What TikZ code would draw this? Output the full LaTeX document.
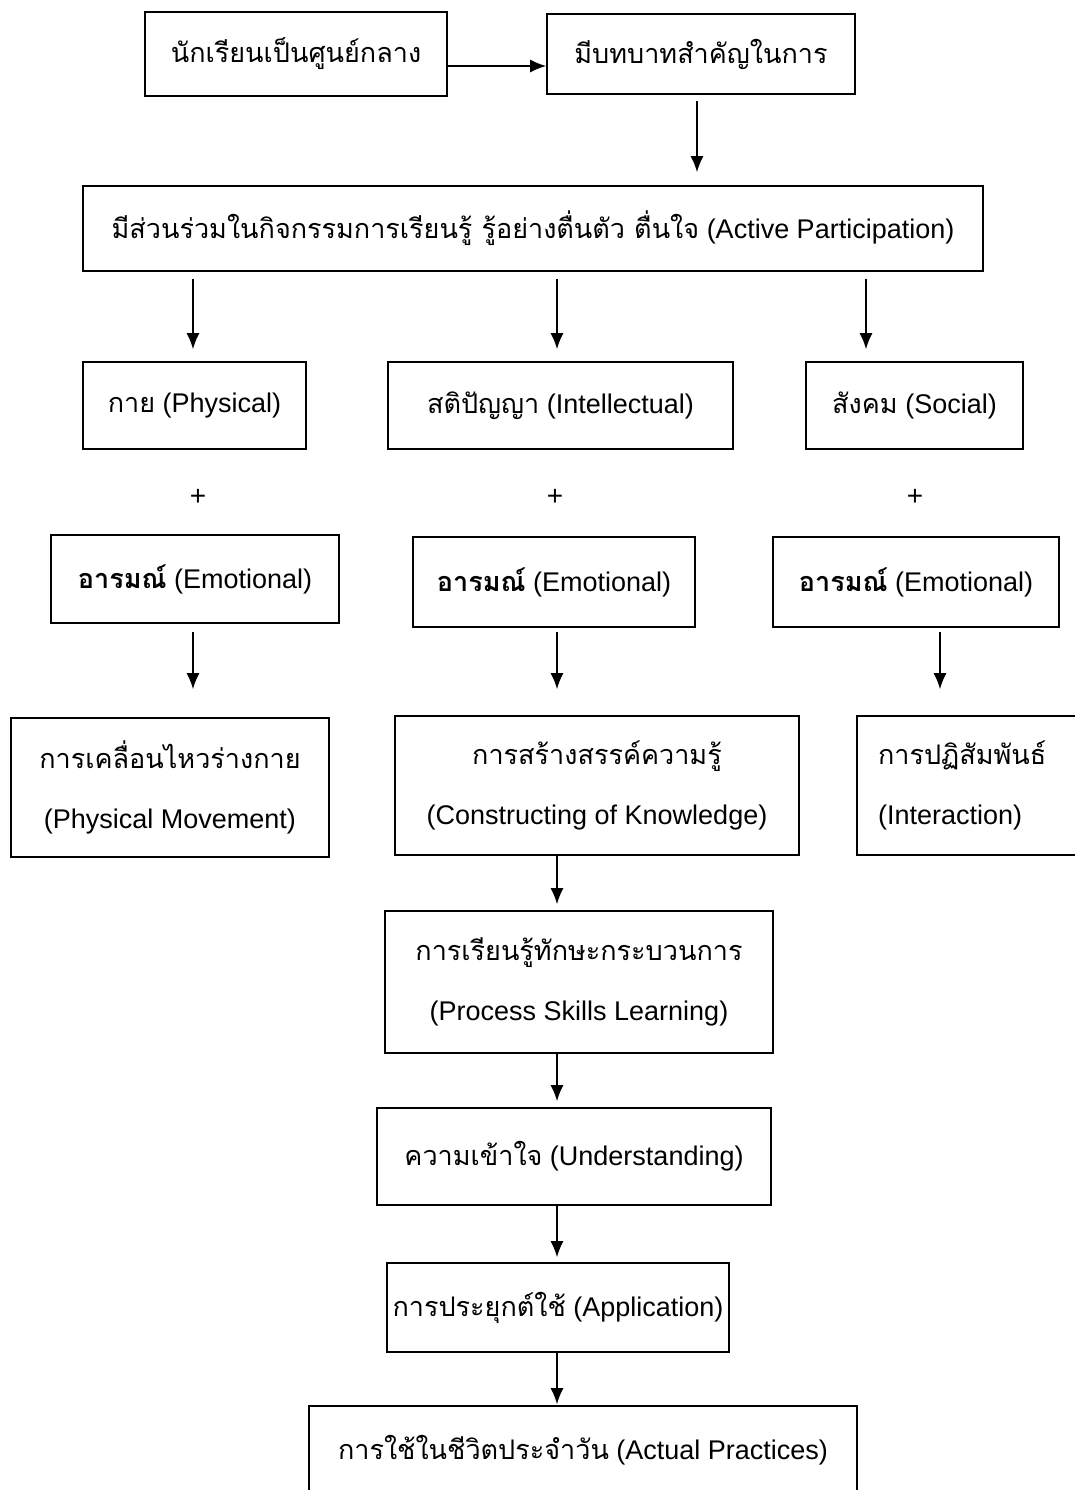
\documentclass[tikz,border=0pt]{standalone}
\usepackage{fontspec}
\setmainfont{Liberation Sans}
\newfontfamily\thaifont[Script=Thai]{Loma}
\usetikzlibrary{arrows.meta}
\newcommand{\tha}[1]{{\thaifont #1}}
\newcommand{\thb}[1]{{\thaifont\bfseries #1}}

\begin{document}
\begin{tikzpicture}[x=1pt,y=-1pt,>={Latex[length=16pt,width=13pt]},
	box/.style={draw,line width=1.6pt,align=center,inner sep=0pt,font=\fontsize{27}{60}\selectfont},
	plus/.style={font=\fontsize{28}{30}\selectfont},
	arr/.style={->,line width=1.6pt}]
	\clip (0,0) rectangle (1075,1490);
	\coordinate (spine) at (557,0);
	\node[box,minimum width=302,minimum height=84] (A) at (296,54) {\tha{นักเรียนเป็นศูนย์กลาง}};
	\node[box,minimum width=308,minimum height=80] (B) at (701,54) {\tha{มีบทบาทสำคัญในการ}};
	\node[box,minimum width=900,minimum height=85] (C) at (533,228.5) {\tha{มีส่วนร่วมในกิจกรรมการเรียนรู้ รู้อย่างตื่นตัว ตื่นใจ} (Active Participation)};
	\node[box,minimum width=223,minimum height=87] (D1) at (194.5,405.5) {\tha{กาย} (Physical)};
	\node[box,minimum width=345,minimum height=87] (D2) at (560.5,405.5) {\tha{สติปัญญา} (Intellectual)};
	\node[box,minimum width=217,minimum height=87] (D3) at (914.5,405.5) {\tha{สังคม} (Social)};
	\node[plus] (P1) at (198,497) {+};
	\node[plus] (P2) at (555,497) {+};
	\node[plus] (P3) at (915,497) {+};
	\node[box,minimum width=288,minimum height=88] (E1) at (195,579) {\thb{อารมณ์} (Emotional)};
	\node[box,minimum width=282,minimum height=90] (E2) at (554,582) {\thb{อารมณ์} (Emotional)};
	\node[box,minimum width=286,minimum height=90] (E3) at (916,582) {\thb{อารมณ์} (Emotional)};
	\node[box,minimum width=318,minimum height=139] (F1) at (170,787.5) {\tha{การเคลื่อนไหวร่างกาย}\\(Physical Movement)};
	\node[box,minimum width=404,minimum height=139] (F2) at (597,785.5) {\tha{การสร้างสรรค์ความรู้}\\(Constructing of Knowledge)};
	\node[box,minimum height=139,text width=190,inner xsep=21,align=left] (F3) at (973,785.5) {\tha{การปฏิสัมพันธ์}\\(Interaction)};
	\node[box,minimum width=388,minimum height=142] (G) at (579,982) {\tha{การเรียนรู้ทักษะกระบวนการ}\\(Process Skills Learning)};
	\node[box,minimum width=394,minimum height=97] (H) at (574,1156.5) {\tha{ความเข้าใจ} (Understanding)};
	\node[box,minimum width=342,minimum height=89] (I) at (558,1307.5) {\tha{การประยุกต์ใช้} (Application)};
	\node[box,minimum width=548,minimum height=88] (J) at (583,1450) {\tha{การใช้ในชีวิตประจำวัน} (Actual Practices)};
	\draw[arr] ([yshift=-12pt]A.east)--([yshift=-12pt]B.west);
	\draw[arr,shorten <=6pt,shorten >=13pt] ([xshift=-4pt]B.south)--([xshift=-4pt]B.south |- C.north);
	\draw[arr,shorten <=7pt,shorten >=12pt] (C.south -| 193,0)--(D1.north -| 193,0);
	\draw[arr,shorten <=7pt,shorten >=12pt] (C.south -| spine)--(D2.north -| spine);
	\draw[arr,shorten <=7pt,shorten >=12pt] (C.south -| 866,0)--(D3.north -| 866,0);
	\draw[arr,shorten <=8pt,shorten >=28pt] (E1.south -| 193,0)--(F1.north -| 193,0);
	\draw[arr,shorten <=4pt,shorten >=26pt] (E2.south -| spine)--(F2.north -| spine);
	\draw[arr,shorten <=4pt,shorten >=26pt] (E3.south -| 940,0)--(F3.north -| 940,0);
	\draw[arr,shorten >=6pt] (F2.south -| spine)--(G.north -| spine);
	\draw[arr,shorten >=6pt] (G.south -| spine)--(H.north -| spine);
	\draw[arr,shorten >=5pt] (H.south -| spine)--(I.north -| spine);
	\draw[arr,shorten >=1pt] (I.south -| spine)--(J.north -| spine);
\end{tikzpicture}
\end{document}
